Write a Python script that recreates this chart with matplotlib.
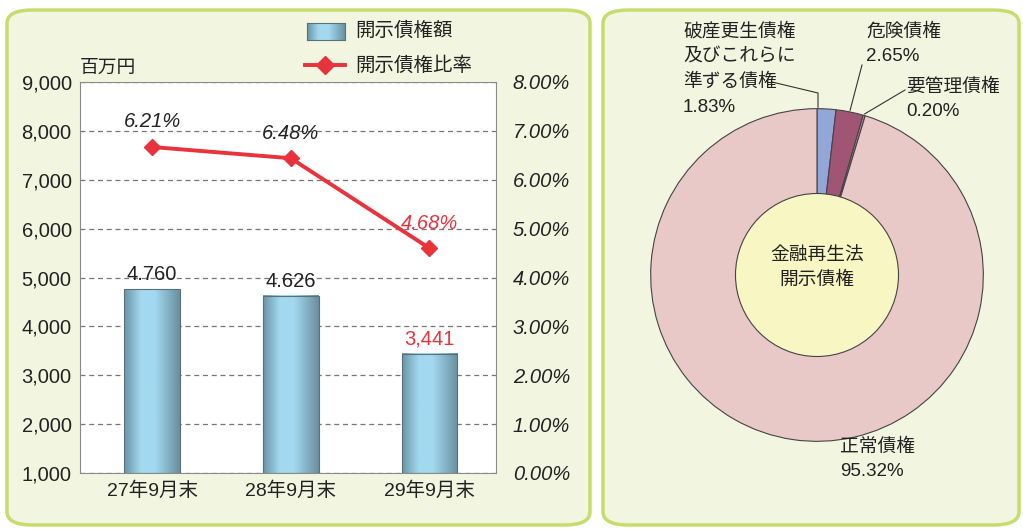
import matplotlib
matplotlib.use("Agg")
import matplotlib.pyplot as plt
import numpy as np
from matplotlib.colors import LinearSegmentedColormap
from matplotlib.patches import FancyBboxPatch, Rectangle, Circle
from matplotlib.lines import Line2D

plt.rcParams["font.family"] = ["Liberation Sans", "Noto Sans CJK JP"]

# data
periods = ["27年9月末", "28年9月末", "29年9月末"]
disclosed_amount = [4760, 4626, 3441]          # 百万円
amount_labels = ["4.760", "4.626", "3,441"]
disclosed_ratio = [6.67, 6.44, 4.60]            # % (as drawn)
ratio_labels = ["6.21%", "6.48%", "4.68%"]

pie_names = ["破産更生債権\n及びこれらに\n準ずる債権", "危険債権", "要管理債権", "正常債権"]
pie_shares = [1.83, 2.65, 0.20, 95.32]
pie_colors = ["#93a6d8", "#a05574", "#c9909c", "#e9c8c8"]

W, H = 1023, 529
fig = plt.figure(figsize=(W / 100, H / 100), dpi=100, facecolor="white")


def px(x, y):
    return x / W, 1 - y / H


def box(x0, y0, x1, y1):
    return [x0 / W, 1 - y1 / H, (x1 - x0) / W, (y1 - y0) / H]


# panels
for x0, x1 in [(7, 590), (603, 1019)]:
    fig.patches.append(FancyBboxPatch(px(x0, 525), (x1 - x0) / W, 515 / H,
                                      boxstyle="round,pad=0,rounding_size=0.025",
                                      transform=fig.transFigure, facecolor="#f2f6e1",
                                      edgecolor="#c6dc6c", linewidth=2.5, zorder=-5))

red = "#e8323c"
text_col = "#222222"
fs = 14.5
bar_cmap = LinearSegmentedColormap.from_list(
    "bar", [(0, "#6c95a6"), (0.3, "#a3d9f0"), (0.55, "#a3d9f0"), (1, "#6a8fa0")])
grad = np.linspace(0, 1, 100).reshape(1, -1)

# bar + line chart
ax = fig.add_axes(box(80, 82, 496, 473))
ax.set_facecolor("white")
x = np.arange(len(periods))
bw = 0.4
for i, v in enumerate(disclosed_amount):
    ax.imshow(grad, cmap=bar_cmap, extent=[x[i] - bw / 2, x[i] + bw / 2, 1000, v],
              aspect="auto", zorder=2)
    ax.add_patch(Rectangle((x[i] - bw / 2, 1000), bw, v - 1000, fill=False,
                           edgecolor="#5a6f78", linewidth=0.8, zorder=3))
    ax.text(x[i], v + 100, amount_labels[i], ha="center", va="bottom", fontsize=fs,
            color=red if i == 2 else text_col)
ax.set_xlim(-0.52, 2.48)
ax.set_ylim(1000, 9000)
ax.set_yticks(range(1000, 9001, 1000))
ax.set_yticklabels([f"{v:,}" for v in range(1000, 9001, 1000)], fontsize=fs, color=text_col)
ax.set_xticks(x)
ax.set_xticklabels(periods, fontsize=14, color=text_col)
ax.tick_params(length=0, pad=6)
ax.grid(axis="y", linestyle=(0, (4, 3)), color="#777777", linewidth=0.9)
ax.set_axisbelow(True)
for s in ax.spines.values():
    s.set_color("#8a8a8a")

ax2 = ax.twinx()
ax2.set_ylim(0, 8)
ax2.plot(x, disclosed_ratio, color=red, linewidth=2.8, marker="D", markersize=8, zorder=5)
ax2.set_yticks(range(0, 9))
ax2.set_yticklabels([f"{v:.2f}%" for v in range(0, 9)], fontsize=fs, style="italic",
                    color=text_col)
ax2.tick_params(length=0, pad=12)
for s in ax2.spines.values():
    s.set_visible(False)
for i, t in enumerate(ratio_labels):
    ax2.text(x[i], disclosed_ratio[i] + 0.32, t, ha="center", va="bottom", fontsize=fs,
             style="italic", color=red if i == 2 else text_col)

fig.text(*px(80, 68), "百万円", fontsize=13.5, color=text_col, va="center")

# legend
lax = fig.add_axes(box(307, 23, 345, 40))
lax.imshow(grad, cmap=bar_cmap, aspect="auto")
lax.set_xticks([])
lax.set_yticks([])
for s in lax.spines.values():
    s.set_color("#5a6f78")
    s.set_linewidth(0.8)
fig.text(*px(355, 31), "開示債権額", fontsize=14, color=text_col, va="center")
fig.lines.append(Line2D([305 / W, 345 / W], [1 - 65 / H] * 2, transform=fig.transFigure,
                        color=red, linewidth=2.8))
fig.lines.append(Line2D([325 / W], [1 - 65 / H], transform=fig.transFigure, color=red,
                        marker="D", markersize=9))
fig.text(*px(355, 66), "開示債権比率", fontsize=14, color=text_col, va="center")

# donut chart
cx, cy, r = 817, 275, 168
pax = fig.add_axes(box(cx - r, cy - r, cx + r, cy + r))
wedges, _ = pax.pie(pie_shares, colors=pie_colors, startangle=90, counterclock=False,
                    wedgeprops=dict(edgecolor="#444444", linewidth=0.8))
pax.add_patch(Circle((0, 0), 0.49, facecolor="#f8f6c3", edgecolor="#444444", linewidth=0.8))
pax.set_xlim(-1.01, 1.01)
pax.set_ylim(-1.01, 1.01)
pax.set_aspect("equal")
pax.axis("off")
pax.text(0, 0.04, "金融再生法\n開示債権", ha="center", va="center", fontsize=13.5,
         color=text_col, linespacing=1.55)


def edge_point(i):
    w = wedges[i]
    a = np.deg2rad((w.theta1 + w.theta2) / 2)
    return cx + r * np.cos(a), cy - r * np.sin(a)


lbl_pos = [(683, 23), (866, 23), (906, 78), (840, 438)]
for i, (lx, ly) in enumerate(lbl_pos):
    fig.text(*px(lx, ly), f"{pie_names[i]}\n{pie_shares[i]:.2f}%", fontsize=13.5,
             color=text_col, va="top", linespacing=1.6)

leaders = [[(772, 82), (818, 93)], [(862, 65)], [(905, 90)]]
for i, pts in enumerate(leaders):
    ex, ey = edge_point(i)
    if i == 0:
        ex = 818
    xs = [p[0] for p in pts] + [ex]
    ys = [p[1] for p in pts] + [ey]
    fig.lines.append(Line2D([v / W for v in xs], [1 - v / H for v in ys],
                            transform=fig.transFigure, color="#333333", linewidth=0.8))

fig.savefig("out.png", dpi=100, facecolor="white")
